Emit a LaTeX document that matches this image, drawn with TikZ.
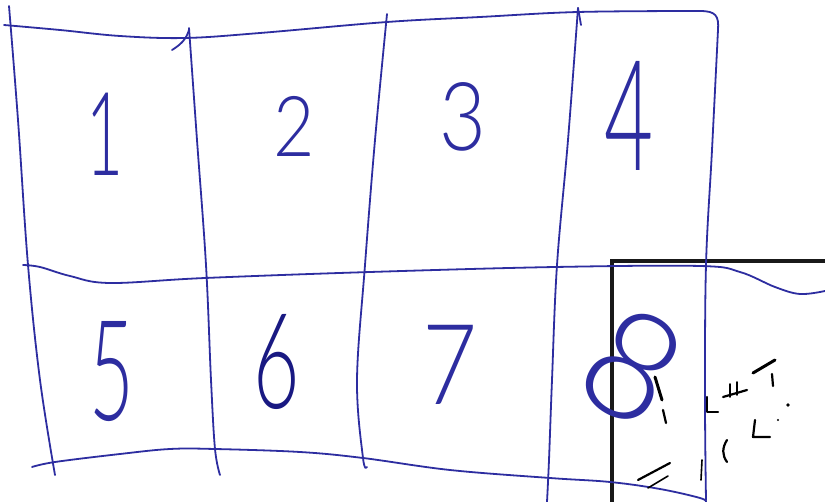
\documentclass[tikz,border=0pt]{standalone}
\usepackage{fontspec}
\setmainfont{Lato}[UprightFont=* Light]
\definecolor{pen}{RGB}{45,45,160}
\definecolor{pendark}{RGB}{25,25,130}
\tikzset{
  ink/.style={draw=pen, line width=1.8pt, line cap=round, line join=round},
  frame/.style={draw=black!90, line width=3.6pt},
  scrib/.style={draw=black, line width=2.2pt, line cap=round, line join=round},
  digit/.style={text=pen, inner sep=0pt, outer sep=0pt}
}
\newcommand{\dg}[2]{\fontsize{#1}{#1}\selectfont #2}
\begin{document}
\begin{tikzpicture}[x=1pt,y=-1pt]
\useasboundingbox (0,0) rectangle (825,502);
\fill[white] (0,0) rectangle (825,502);

% black frame (bottom right)
\draw[frame] (825,261) -- (612,261) -- (612,502);

% outer border top + right
\draw[ink] plot[smooth, tension=0.6] coordinates {(4,25) (60,30) (120,36) (185,38) (260,33) (387,22) (480,17) (578,12) (700,11)}
  .. controls (716,11) and (719,16) .. (718,30)
  -- plot[smooth, tension=0.6] coordinates {(718,30) (712,150) (706,265) (705,400) (706,500)};
% left border
\draw[ink] plot[smooth, tension=0.6] coordinates {(9,6) (18,120) (28,265) (40,380) (55,475)};
% vertical 1
\draw[ink] (172,50) .. controls (180,45) and (186,40) .. (189,30);
\draw[ink] plot[smooth, tension=0.6] coordinates {(189,28) (197,140) (206,265) (211,380) (215,449) (220,475)};
% vertical 2
\draw[ink] plot[smooth, tension=0.6] coordinates {(387,14) (375,140) (365,265) (357,380) (363,458) (367,467)};
% vertical 3
\draw[ink] (578,8) -- (581,25);
\draw[ink] plot[smooth, tension=0.6] coordinates {(578,8) (568,140) (557,265) (552,380) (549,460) (547,502)};

% middle horizontal
\draw[ink] plot[smooth, tension=0.6] coordinates {(23,265) (40,267) (70,276) (110,283) (205,278) (370,272) (555,267) (700,266) (740,272) (775,287) (800,294) (825,291)};
% bottom horizontal
\draw[ink] plot[smooth, tension=0.6] coordinates {(32,467) (55,462) (120,454) (170,449) (215,449) (300,452) (363,458) (450,470) (550,478) (610,482) (660,489) (700,498) (706,502)};

% digits
\node[digit, xscale=0.55] (d1) at (105,134) {\dg{116}{1}};
\node[digit, xscale=0.85] (d2) at (294,126) {\dg{84}{2}};
\node[digit, xscale=0.85] (d3) at (463,117) {\dg{95}{3}};
\node[digit, xscale=0.55] (d4) at (629,116) {\dg{154}{4}};
\node[digit, xscale=0.55] (d5) at (112,372) {\dg{140}{5}};
\node[digit, xscale=0.6, text=pendark] (d6) at (277,362) {\dg{133}{6}};
\node[digit, xscale=0.85] (d7) at (450,365) {\dg{112}{7}};
\node[digit, rotate=-30] (d8) at (633,366) {\dg{150}{8}};

% black scribbles
\draw[scrib, line width=3pt] (655,377) -- (662,400);
\draw[scrib] (663,410) -- (666,423);
\draw[scrib] (638,480) -- (670,463);
\draw[scrib, line width=1.6pt] (648,488) -- (668,476);
\draw[scrib] (707,397) -- (707,412) -- (718,412);
\draw[scrib] (723,397) -- (747,390);
\draw[scrib, line width=1.8pt] (730,384) -- (730,397);
\draw[scrib, line width=1.8pt] (737,382) -- (737,395);
\draw[scrib, line width=3pt] (753,373) -- (775,360);
\draw[scrib] (772,374) -- (773,386);
\fill[black] (788,405) circle (1.8pt);
\fill[black] (778,420) circle (1.2pt);
\draw[scrib] (755,420) -- (753,437) -- (770,437);
\draw[scrib] (727,440) .. controls (722,448) and (722,455) .. (727,462);
\draw[scrib, line width=1.6pt] (702,460) -- (701,480);
\end{tikzpicture}
\end{document}
